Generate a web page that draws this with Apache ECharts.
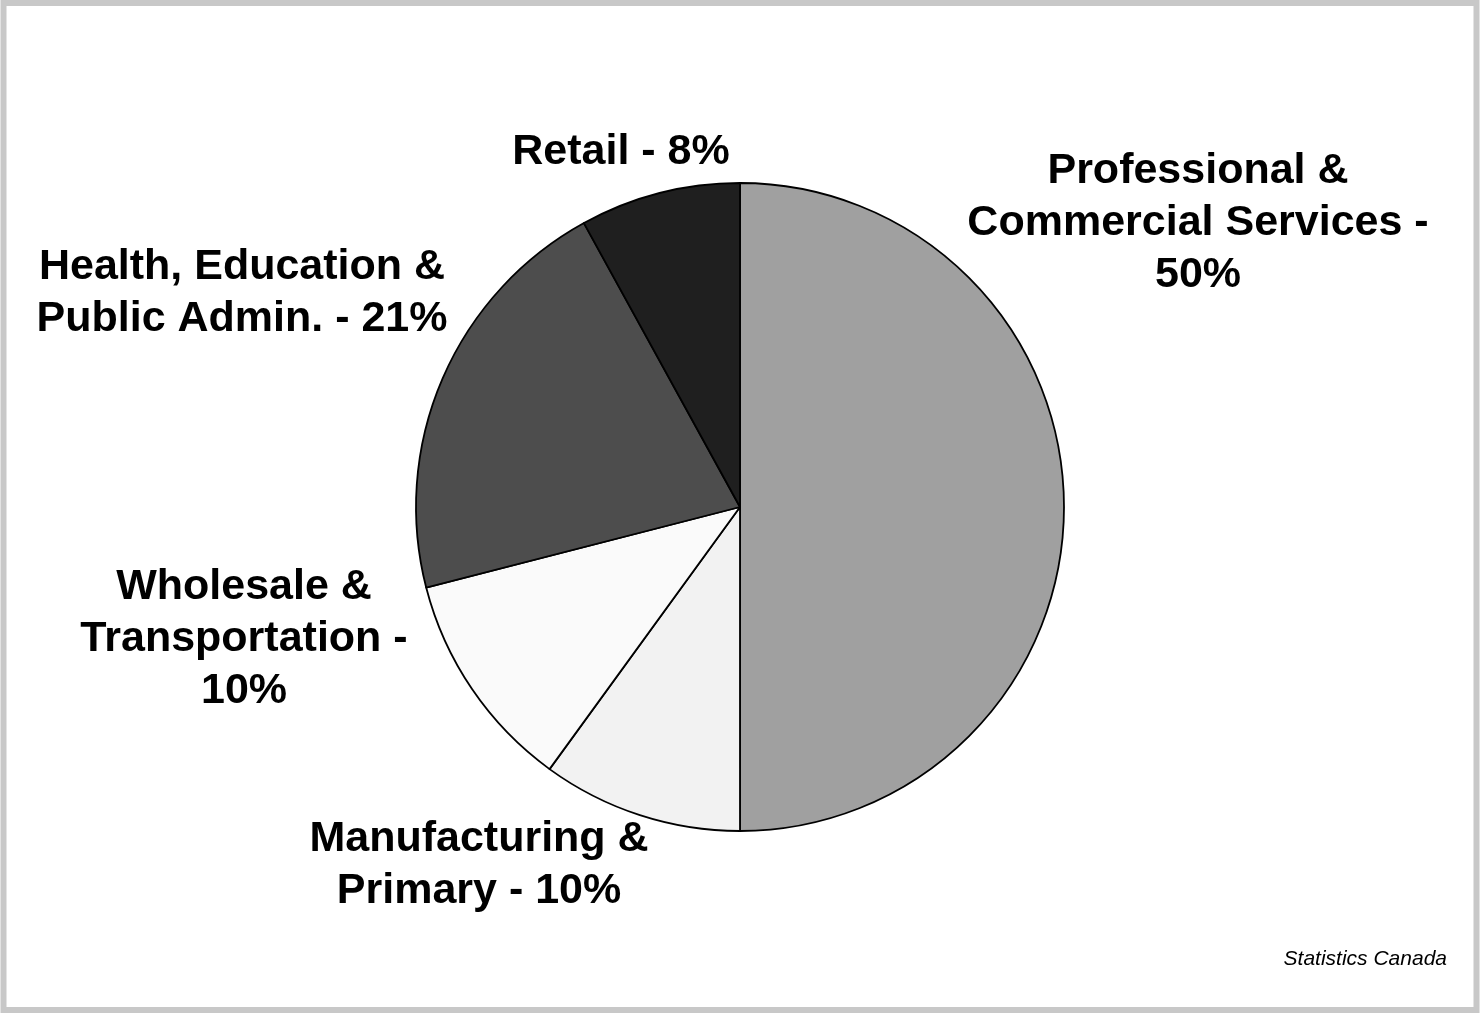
<!DOCTYPE html>
<html>
<head>
<meta charset="utf-8">
<style>
html,body{margin:0;padding:0;background:#fff;}
#chart{width:1480px;height:1013px;}
</style>
<script src="https://cdn.jsdelivr.net/npm/echarts@6/dist/echarts.min.js"></script>
</head>
<body>
<div id="chart"></div>
<script>
// Data
const categories = ["Professional &\nCommercial Services -\n50%", "Manufacturing &\nPrimary - 10%", "Wholesale &\nTransportation -\n10%", "Health, Education &\nPublic Admin. - 21%", "Retail - 8%"];
const shares = [50, 10, 11, 21, 8];
const sliceColors = ["#a0a0a0", "#f2f2f2", "#fafafa", "#4d4d4d", "#1f1f1f"];
const sourceNote = "Statistics Canada";

// Label placement (centres of the label blocks, in pixels)
const labelCenters = [[1198, 223], [479, 865], [244, 639], [242, 293], [621, 152]];

const chart = echarts.init(document.getElementById('chart'), null, {renderer: 'canvas'});
chart.setOption({
  backgroundColor: '#ffffff',
  animation: false,
  graphic: [
    {type: 'rect', shape: {x: 3.5, y: 3, width: 1473, height: 1007}, style: {fill: 'none', stroke: '#c8c8c8', lineWidth: 6}},
    {type: 'text', right: 33, top: 949, style: {text: sourceNote, font: 'italic 21px "Liberation Sans", Arial, sans-serif', fill: '#000', textAlign: 'right'}}
  ],
  series: [{
    type: 'pie',
    center: [740, 507],
    radius: [0, 324],
    startAngle: 90,
    clockwise: true,
    avoidLabelOverlap: false,
    data: categories.map((c, i) => ({name: c, value: shares[i], itemStyle: {color: sliceColors[i]}})),
    itemStyle: {borderColor: '#000', borderWidth: 1.8},
    label: {
      show: true,
      position: 'outside',
      formatter: '{b}',
      color: '#000',
      fontFamily: '"Liberation Sans", Arial, sans-serif',
      fontWeight: 'bold',
      fontSize: 43,
      lineHeight: 52,
      align: 'center'
    },
    labelLine: {show: false},
    labelLayout: function (params) {
      const p = labelCenters[params.dataIndex];
      return {x: p[0], y: p[1], align: 'center', verticalAlign: 'middle'};
    },
    emphasis: {disabled: true}
  }]
});
</script>
</body>
</html>
